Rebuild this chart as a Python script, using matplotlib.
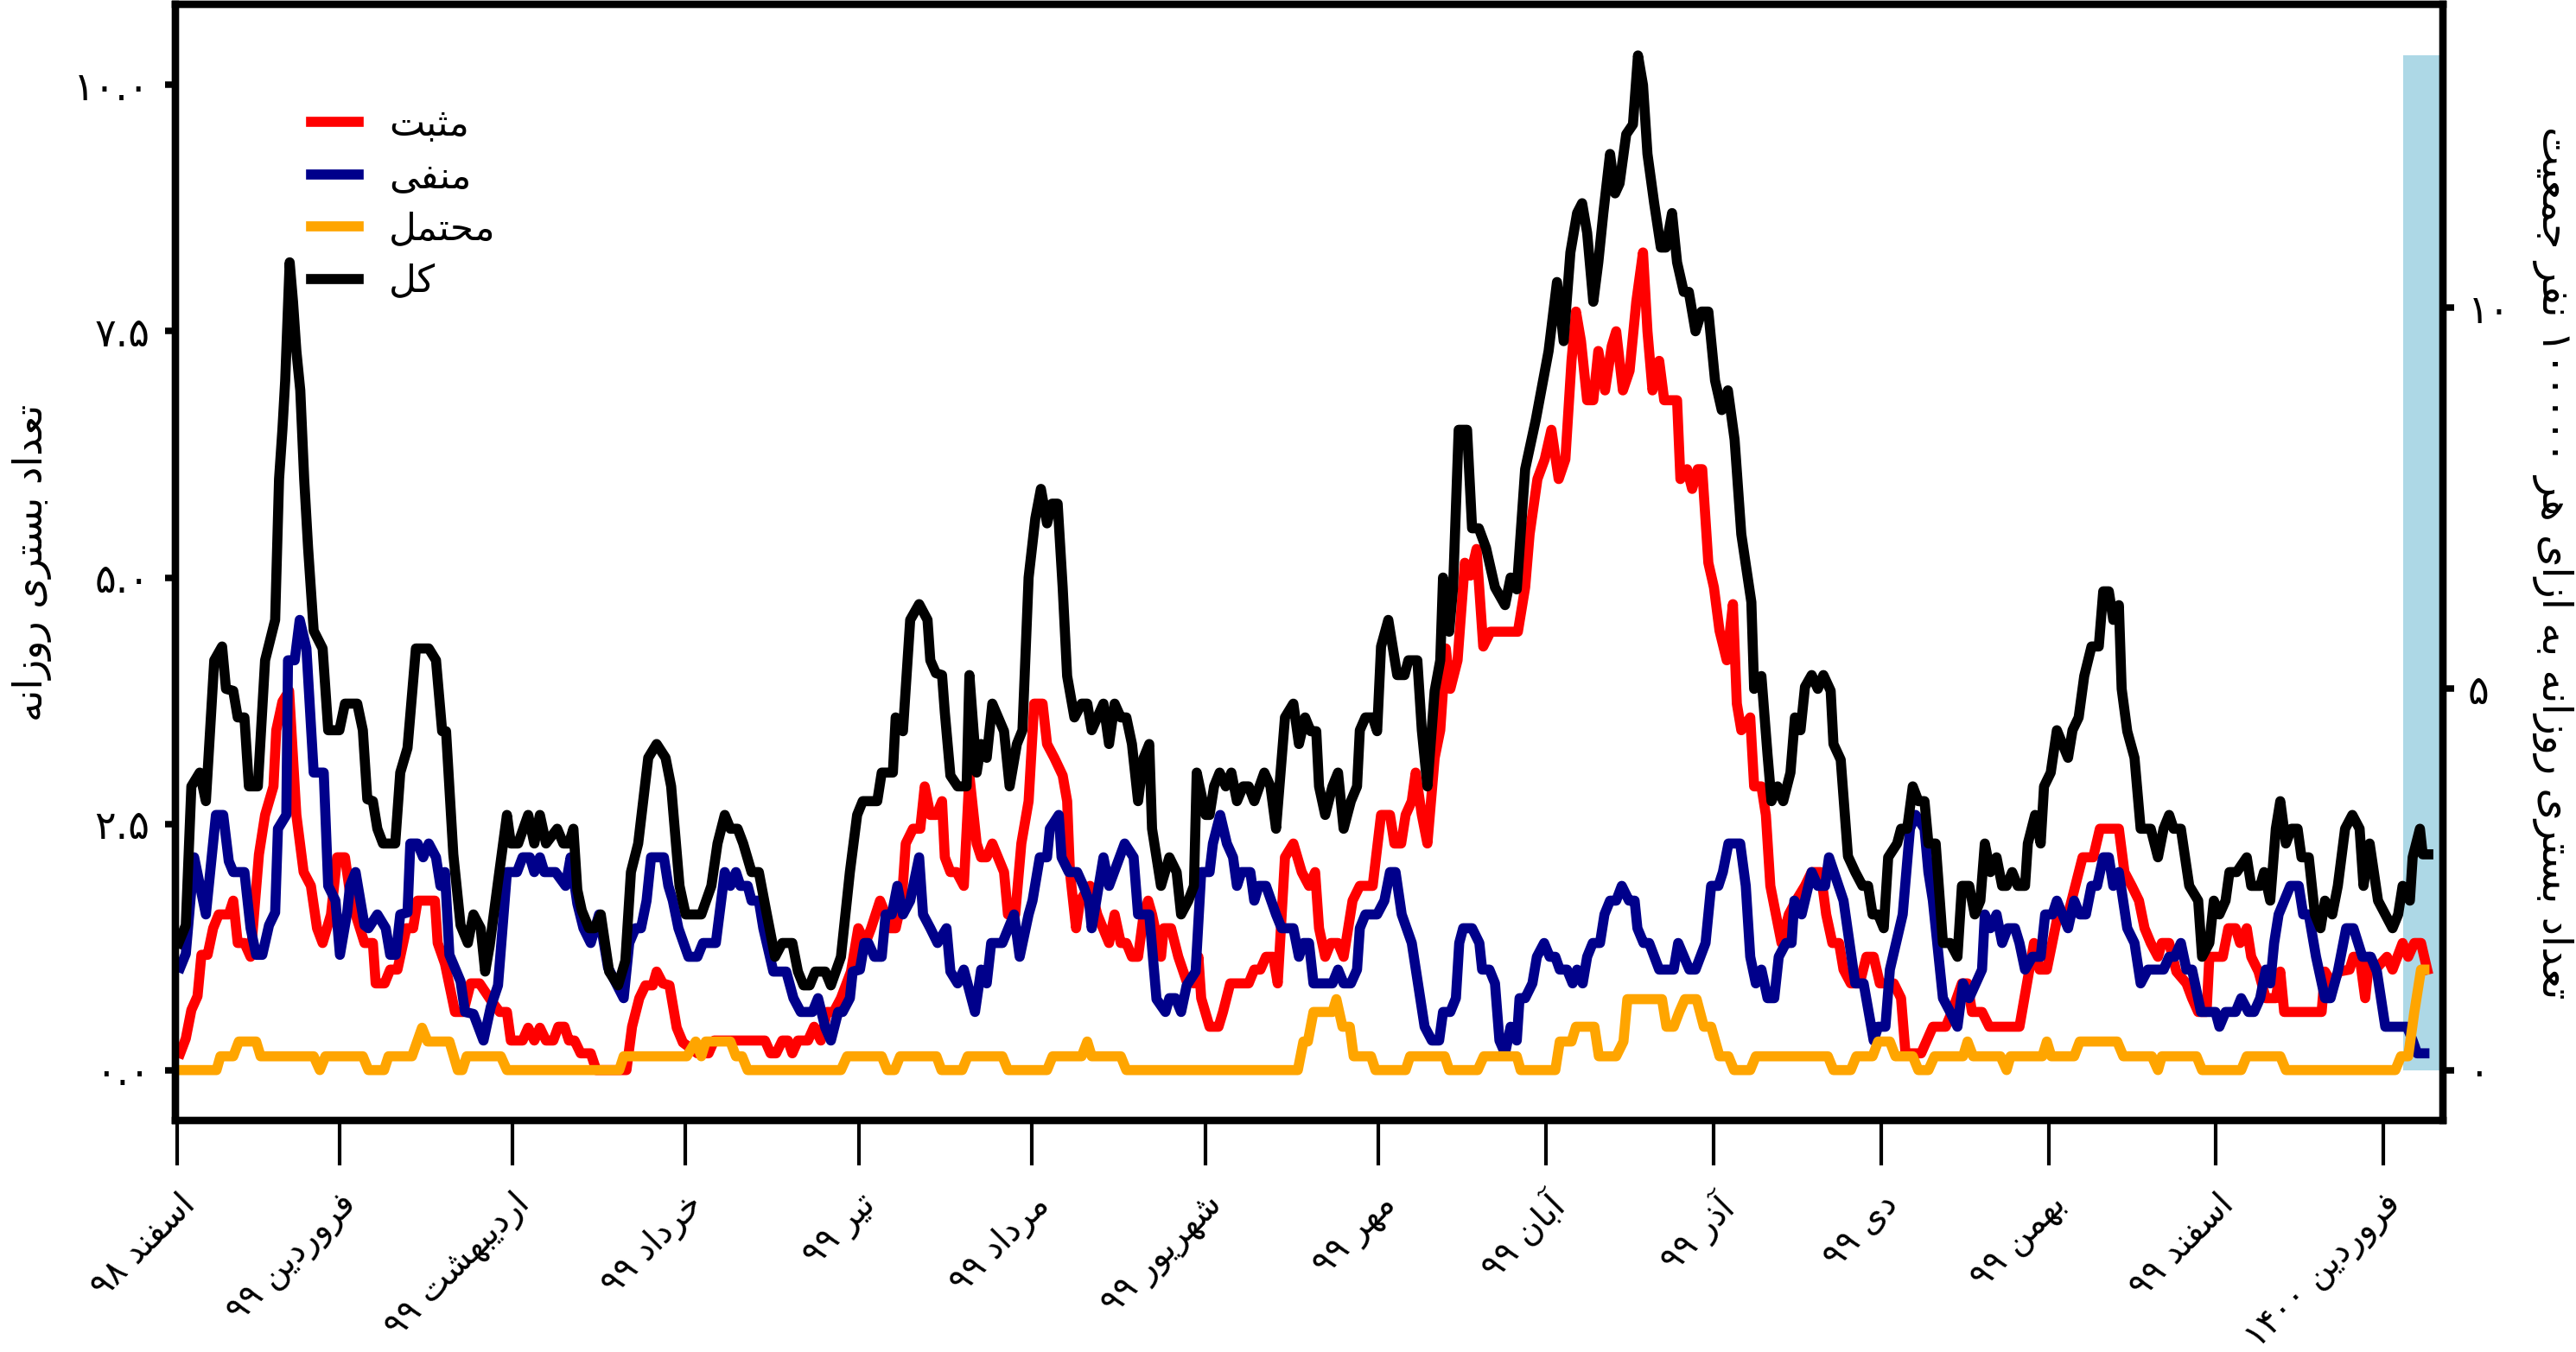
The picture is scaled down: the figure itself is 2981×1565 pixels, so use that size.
import re
import matplotlib
matplotlib.use("Agg")
import matplotlib.pyplot as plt

# days are counted from 1 Esfand 1398
tot_days = [0.2, 1.5, 2.5, 4, 5.1, 6.6, 8, 8.7, 10, 10.8, 12, 12.8, 14.4, 15.7, 17.5, 18.2, 18.8, 19.3, 19.7, 20.1, 20.7, 21.3, 22, 22.7, 23.4, 24.4, 26, 27, 29, 30, 32.2, 33.2, 34, 35, 35.8, 36.8, 39, 39.9, 41.2, 42.7, 45, 46.3, 47.4, 48.1, 49.4, 50.7, 52, 53, 54.3, 55.1, 55.9, 57.4, 59, 59.7, 61, 62.8, 63.9, 64.9, 66, 68, 69.1, 70.1, 70.9, 71.6, 72.4, 73.7, 74.7, 75.8, 77.3, 78.9, 80.2, 81.2, 82.5, 84.3, 85.8, 87.4, 88.4, 89.9, 91, 93.8, 95.6, 96.7, 98, 99, 100.3, 101.3, 102.8, 104.1, 105.4, 107, 108.3, 110.1, 111.1, 112.1, 113.2, 114.2, 116, 117, 118.8, 120.4, 121.7, 122.7, 125.3, 126.1, 128.1, 128.6, 129.9, 131.2, 132.8, 134.3, 134.8, 135.8, 136.9, 137.4, 138.4, 139.7, 141.3, 141.8, 143.1, 143.9, 144.9, 145.9, 148, 149, 150.3, 151.3, 152.4, 153.6, 154.6, 155.7, 156.6, 157.6, 158.5, 159.3, 160.6, 161.9, 162.9, 163.7, 164.7, 165.8, 166.8, 167.8, 168.9, 169.9, 170.9, 172, 173, 174, 174.5, 176.1, 177.6, 178.9, 179.7, 181, 182, 182.5, 184.1, 184.8, 185.6, 186.6, 187.7, 188.7, 189.7, 190.8, 191.8, 192.8, 194.6, 195.7, 196.7, 198.3, 199.8, 200.8, 201.9, 202.9, 203.9, 204.4, 205.5, 206.8, 207.8, 208.8, 210.1, 211.2, 211.7, 212.7, 214, 214.8, 215.5, 216.8, 218.4, 219.7, 220.4, 222, 222.8, 223.8, 225.1, 226.1, 226.6, 227.7, 228.4, 229.4, 230.9, 231.8, 233, 234.3, 235.9, 237.7, 238.7, 239.8, 241.3, 243.2, 245.5, 247, 248.2, 249.4, 250.6, 251.5, 252.4, 253.5, 254.4, 255.3, 256.5, 257.4, 258.2, 259.4, 260.6, 261.5, 262.4, 263.2, 264.4, 265.6, 266.5, 267.6, 268.5, 269.7, 270.6, 271.8, 272.9, 274.1, 275.3, 276.5, 277.6, 278.8, 280, 281.8, 282.3, 283.6, 284.7, 285.4, 286.5, 287.5, 288.8, 289.6, 290.6, 291.4, 292.6, 293.7, 294.7, 296, 296.5, 297.8, 299.1, 300.4, 301.7, 302.7, 303.5, 304.5, 305.5, 306.3, 307.9, 308.6, 309.7, 310.7, 311.7, 312.8, 313.5, 314.8, 316.1, 317.4, 318.7, 319.5, 320.8, 321.8, 322.8, 323.6, 324.6, 325.7, 326.7, 327.5, 328.5, 329.5, 330.8, 331.3, 332.6, 333.6, 334.2, 335.4, 336.5, 338.5, 339.3, 340.4, 341.4, 342.7, 344, 344.8, 345.8, 346.6, 347.6, 348.1, 349.1, 350.4, 351.5, 353.3, 354.6, 355.6, 356.6, 357.4, 358.7, 360.2, 361.8, 362.5, 363.8, 364.6, 365.6, 366.7, 367.4, 368.7, 370.5, 371.3, 372.9, 373.6, 374.7, 375.7, 376.5, 377.5, 378.5, 379.6, 380.3, 381.6, 382.7, 383.7, 384.5, 385.8, 386.8, 388.1, 389.4, 390.7, 391.4, 392.5, 394, 395.3, 396.6, 397.6, 398.4, 399.7, 400.2, 401.5, 402, 403]
tot_vals = [1.29, 1.47, 2.88, 3.02, 2.73, 4.16, 4.30, 3.87, 3.85, 3.58, 3.58, 2.88, 2.88, 4.16, 4.57, 6.0, 6.5, 7.0, 7.6, 8.2, 7.8, 7.3, 6.9, 6.0, 5.3, 4.46, 4.28, 3.45, 3.45, 3.72, 3.72, 3.45, 2.75, 2.73, 2.45, 2.30, 2.30, 3.02, 3.27, 4.28, 4.28, 4.16, 3.44, 3.44, 2.19, 1.47, 1.29, 1.58, 1.44, 1.00, 1.26, 1.91, 2.59, 2.30, 2.30, 2.59, 2.30, 2.59, 2.30, 2.45, 2.30, 2.30, 2.45, 1.83, 1.62, 1.44, 1.44, 1.58, 1.00, 0.86, 1.11, 2.01, 2.30, 3.17, 3.31, 3.17, 2.88, 1.87, 1.58, 1.58, 1.87, 2.30, 2.59, 2.45, 2.45, 2.30, 2.01, 2.01, 1.62, 1.15, 1.29, 1.29, 1.00, 0.86, 0.86, 1.00, 1.00, 0.86, 1.15, 2.01, 2.59, 2.73, 2.73, 3.02, 3.02, 3.58, 3.44, 4.57, 4.73, 4.57, 4.16, 4.03, 4.01, 3.63, 2.99, 2.88, 2.88, 4.01, 3.02, 3.31, 3.17, 3.72, 3.44, 2.88, 3.31, 3.45, 5.0, 5.6, 5.9, 5.55, 5.75, 5.75, 4.9, 4.0, 3.58, 3.72, 3.72, 3.45, 3.58, 3.72, 3.31, 3.72, 3.58, 3.58, 3.31, 2.73, 3.17, 3.31, 2.45, 1.87, 2.16, 2.01, 1.58, 1.72, 1.87, 3.02, 2.59, 2.59, 2.88, 3.02, 2.88, 3.02, 2.73, 2.88, 2.88, 2.73, 3.02, 2.88, 2.45, 3.58, 3.72, 3.31, 3.58, 3.44, 3.44, 2.88, 2.59, 2.88, 3.02, 2.45, 2.73, 2.88, 3.45, 3.58, 3.58, 3.44, 4.30, 4.57, 4.01, 4.01, 4.16, 4.16, 3.45, 2.88, 3.85, 4.16, 5.0, 4.45, 4.9, 6.5, 6.5, 5.5, 5.5, 5.3, 4.9, 4.72, 5.0, 4.88, 6.1, 6.6, 7.3, 8.0, 7.4, 8.3, 8.7, 8.8, 8.5, 7.8, 8.2, 8.7, 9.3, 8.9, 9.0, 9.5, 9.6, 10.3, 10.0, 9.3, 8.8, 8.35, 8.35, 8.7, 8.2, 7.9, 7.9, 7.5, 7.7, 7.7, 7.0, 6.7, 6.9, 6.4, 5.44, 4.75, 3.87, 4.0, 3.2, 2.73, 2.88, 2.73, 3.02, 3.58, 3.45, 3.89, 4.01, 3.87, 4.01, 3.85, 3.31, 3.15, 2.17, 2.01, 1.87, 1.87, 1.58, 1.58, 1.44, 2.16, 2.30, 2.45, 2.45, 2.88, 2.73, 2.73, 2.30, 2.30, 1.29, 1.29, 1.15, 1.87, 1.87, 1.58, 1.72, 2.30, 2.01, 2.16, 1.87, 1.87, 2.01, 1.87, 1.87, 2.30, 2.59, 2.30, 2.88, 3.02, 3.45, 3.17, 3.45, 3.58, 4.0, 4.30, 4.30, 4.86, 4.86, 4.57, 4.72, 3.87, 3.44, 3.17, 2.45, 2.45, 2.16, 2.45, 2.59, 2.45, 2.45, 1.87, 1.72, 1.15, 1.29, 1.72, 1.58, 1.72, 2.01, 2.01, 2.16, 1.87, 1.87, 2.01, 1.72, 2.45, 2.73, 2.30, 2.45, 2.45, 2.16, 2.16, 1.58, 1.44, 1.72, 1.58, 1.87, 2.45, 2.59, 2.45, 1.87, 2.30, 1.72, 1.58, 1.44, 1.58, 1.87, 1.72, 2.16, 2.45, 2.19, 2.19]

pos_days = [0.5, 1.5, 2.5, 3.6, 4.3, 5.4, 6.4, 7.4, 9.2, 10, 10.8, 12, 13.1, 14.6, 15.7, 17.2, 17.7, 18.8, 20, 21.3, 22.6, 23.9, 25, 26, 27.5, 28.6, 30, 31.1, 31.9, 33.5, 35, 35.5, 37.1, 38.1, 39.4, 41, 42.2, 43, 46.1, 46.6, 47.9, 49.7, 51.2, 52.5, 54.1, 56, 57.7, 59, 59.7, 61.8, 62.8, 63.9, 64.9, 66, 67.3, 68.2, 69.3, 70.1, 71.1, 72.2, 74, 75, 80.4, 81.4, 82.7, 83.8, 85.1, 85.8, 86.9, 88.1, 89.4, 90.5, 93.1, 95.1, 96.1, 105.2, 106.2, 107.2, 108.3, 109.3, 110.1, 111.1, 112.9, 114, 115.2, 116.3, 117.5, 118.8, 120.6, 121.9, 123.2, 124.2, 125.8, 126.8, 127.6, 128.6, 129.7, 130.4, 131.7, 133, 133.8, 134.8, 135.9, 136.9, 137.4, 138.4, 139.5, 140.8, 141.8, 143.1, 143.9, 144.9, 145.9, 148, 148.7, 150, 151.1, 152.4, 153.4, 154.9, 155.7, 157, 158.5, 159.3, 159.8, 160.9, 161.6, 163.4, 164.7, 166.8, 167.8, 168.9, 169.9, 170.9, 172, 173, 173.8, 174.5, 176.1, 176.6, 177.9, 179.2, 180.7, 182, 182.8, 183.3, 184.8, 186.4, 187.2, 188.5, 191.8, 192.8, 193.9, 194.9, 196.2, 197, 198.3, 199.8, 201.3, 202.6, 203.7, 204.4, 205.5, 206.5, 207.8, 208.8, 210.4, 211.7, 214, 215.5, 217.1, 217.9, 219.1, 219.9, 221, 221.7, 222.8, 223.8, 225.1, 226.1, 227.1, 227.9, 229.2, 230.5, 231.5, 232.6, 233.8, 235.1, 240, 241.3, 242.1, 243.5, 244.8, 246, 247.3, 248.5, 249.6, 250.4, 251.3, 252.4, 253.5, 254.4, 255.6, 256.8, 257.6, 258.8, 260, 261.2, 262.4, 263.2, 264.1, 265.3, 266.2, 268.5, 269.1, 270.3, 271.2, 272.2, 273, 274.1, 275.1, 276.1, 277.4, 278.5, 279.2, 280, 281.6, 282.3, 283.6, 284.4, 285.2, 286.2, 287.2, 288.5, 289.8, 291.4, 292.6, 294.2, 295.2, 296.3, 297.5, 298.3, 299.6, 301.2, 302.4, 303.7, 304.8, 307.3, 308.6, 309.4, 312.2, 314.3, 316.6, 317.7, 319.5, 320.5, 321.3, 323.1, 324.4, 329.8, 332.4, 333.4, 334.7, 336.7, 338.5, 339.8, 341.1, 343, 344.2, 347.6, 348.6, 349.9, 351.2, 352.2, 353.3, 354.6, 355.3, 356.6, 357.9, 359.7, 360.7, 361.8, 363.3, 363.8, 366.2, 367.2, 368.5, 369.3, 370.5, 371.3, 372.6, 373.9, 375.7, 376.5, 377.2, 383.9, 384.5, 385.8, 387, 388.9, 389.6, 390.7, 391.7, 392.5, 393.5, 395.6, 396.6, 398.4, 399.4, 400.5, 401.7, 402.8]
pos_vals = [0.17, 0.32, 0.61, 0.75, 1.17, 1.17, 1.44, 1.58, 1.58, 1.72, 1.29, 1.29, 1.15, 2.19, 2.59, 2.88, 3.45, 3.74, 3.85, 2.59, 2.01, 1.87, 1.44, 1.29, 1.58, 2.16, 2.16, 1.72, 1.58, 1.29, 1.29, 0.88, 0.88, 1.02, 1.02, 1.44, 1.44, 1.72, 1.72, 1.29, 1.08, 0.59, 0.59, 0.88, 0.88, 0.72, 0.59, 0.59, 0.30, 0.30, 0.43, 0.30, 0.43, 0.30, 0.30, 0.44, 0.44, 0.30, 0.30, 0.17, 0.17, 0, 0, 0.44, 0.73, 0.86, 0.86, 1.00, 0.88, 0.86, 0.43, 0.28, 0.17, 0.17, 0.30, 0.30, 0.17, 0.17, 0.30, 0.30, 0.17, 0.30, 0.30, 0.44, 0.30, 0.59, 0.59, 0.73, 1.00, 1.44, 1.29, 1.44, 1.72, 1.58, 1.44, 1.44, 1.72, 2.30, 2.45, 2.45, 2.88, 2.59, 2.59, 2.73, 2.16, 2.01, 2.01, 1.87, 2.99, 2.30, 2.16, 2.16, 2.30, 2.01, 1.58, 1.58, 2.30, 2.73, 3.72, 3.72, 3.31, 3.17, 2.99, 2.73, 2.01, 1.44, 1.72, 1.87, 1.58, 1.29, 1.58, 1.29, 1.29, 1.15, 1.15, 1.58, 1.72, 1.58, 1.15, 1.44, 1.44, 1.15, 0.90, 0.88, 1.15, 0.73, 0.44, 0.44, 0.59, 0.88, 0.88, 1.02, 1.02, 1.15, 1.15, 0.88, 2.16, 2.30, 2.01, 1.87, 2.01, 1.44, 1.15, 1.29, 1.29, 1.15, 1.72, 1.87, 1.87, 2.59, 2.59, 2.30, 2.30, 2.59, 2.73, 3.02, 2.59, 2.30, 3.17, 3.45, 4.28, 3.87, 4.16, 5.15, 5.02, 5.29, 4.30, 4.45, 4.45, 4.90, 5.44, 6.0, 6.2, 6.5, 6.0, 6.2, 7.2, 7.7, 7.4, 6.8, 6.8, 7.3, 6.9, 7.35, 7.5, 6.9, 7.1, 7.8, 8.3, 7.5, 6.9, 7.2, 6.8, 6.8, 6.0, 6.1, 5.9, 6.1, 6.1, 5.15, 4.90, 4.46, 4.16, 4.73, 3.72, 3.45, 3.58, 2.88, 2.88, 2.59, 1.87, 1.58, 1.29, 1.58, 1.72, 1.87, 2.01, 2.01, 1.58, 1.29, 1.29, 1.02, 0.88, 0.88, 1.15, 1.15, 0.88, 0.88, 0.73, 0.17, 0.17, 0.44, 0.44, 0.59, 0.88, 0.88, 0.59, 0.59, 0.44, 0.44, 1.29, 1.02, 1.02, 1.58, 1.58, 1.87, 2.16, 2.16, 2.45, 2.45, 2.01, 1.87, 1.72, 1.44, 1.29, 1.15, 1.29, 1.29, 1.00, 0.88, 0.73, 0.59, 0.59, 1.15, 1.15, 1.44, 1.44, 1.29, 1.44, 1.15, 1.00, 0.73, 0.73, 1.00, 0.59, 0.59, 1.00, 0.88, 1.00, 1.02, 1.15, 1.15, 0.73, 1.15, 1.02, 1.15, 1.02, 1.29, 1.15, 1.29, 1.29, 1.02]

neg_days = [0.5, 1.5, 3, 5.1, 6.9, 8.2, 9.2, 10, 12, 13.1, 14.1, 15.2, 16.4, 17.5, 18, 19.5, 19.8, 21, 21.9, 23.1, 24.4, 26.2, 27, 28.3, 29.1, 30.4, 30.9, 31.9, 33.5, 34.2, 35.8, 37.3, 38.1, 39.1, 39.9, 41.2, 41.7, 43, 44, 45, 46.3, 47.1, 47.9, 48.7, 50.7, 51.5, 53, 54.8, 56.1, 57.4, 59, 60.8, 61.8, 63.1, 63.9, 64.9, 65.7, 67.7, 69.5, 70.4, 71.6, 72.7, 74, 75.5, 77.1, 79.9, 80.9, 82, 83, 84, 84.8, 87.1, 87.9, 88.7, 89.7, 91.5, 93.1, 94.1, 96.4, 98, 99, 100, 100.8, 102.1, 102.8, 104.1, 104.9, 106.7, 109, 110.3, 111.6, 113.7, 114.7, 116, 117, 118.3, 119.1, 120.4, 120.9, 122.2, 123, 123.7, 124.8, 126.1, 126.8, 127.9, 128.9, 129.9, 131.2, 132.8, 133.5, 134.8, 136.1, 137.7, 138.4, 139.7, 140.8, 142.8, 143.9, 144.9, 145.7, 147.7, 149.8, 150.8, 152.4, 153.1, 154.4, 155.7, 156.2, 157.8, 158.3, 159.6, 161.1, 162.2, 163.2, 163.7, 165.8, 166.8, 169.6, 171.2, 172, 174, 175.3, 176.9, 177.6, 178.7, 179.7, 180.7, 182.3, 183.3, 184.8, 185.4, 186.7, 187.9, 189, 189.7, 190.5, 192.1, 192.8, 193.6, 194.9, 196.7, 197.7, 199.8, 200.8, 201.6, 202.6, 203.4, 206.8, 207.8, 208.8, 210.1, 211.2, 211.7, 212.7, 214.8, 216.1, 217.1, 218.1, 219.2, 221, 223.3, 224.6, 225.9, 226.6, 227.9, 228.9, 229.5, 230.2, 231.8, 233.1, 233.6, 234.9, 235.9, 236.7, 237.7, 238.7, 239.8, 240.3, 241.3, 242.6, 243.4, 244.7, 245.7, 246.7, 247.5, 248.8, 249.8, 250.6, 251.6, 252.4, 253.4, 254.7, 255.5, 256.5, 257.6, 258.6, 259.9, 260.9, 261.4, 262.5, 263.5, 265.3, 267.9, 268.7, 270.7, 271.8, 273.6, 274.6, 275.9, 276.7, 277.7, 279.8, 280.8, 281.6, 282.6, 283.6, 284.7, 285.9, 286.7, 288, 289, 289.5, 290.8, 292.6, 293.7, 295, 295.7, 298.3, 300.4, 301.9, 303.7, 304.5, 305.8, 306.6, 308.9, 310.2, 311.2, 312.8, 313.5, 314.3, 316.1, 317.4, 318.7, 319.7, 320.8, 323.1, 323.6, 324.6, 325.7, 326.7, 327.7, 329, 329.8, 330.8, 332.1, 333.6, 334.4, 335.7, 336.5, 338.5, 339.6, 340.6, 341.7, 342.7, 343.7, 344.8, 345.8, 346.6, 347.6, 349.1, 350.4, 351.5, 352.8, 355.6, 356.6, 357.6, 358.7, 359.7, 360.7, 362.3, 364.9, 365.6, 366.7, 368.5, 369.5, 370.8, 371.8, 372.9, 373.9, 374.7, 375.4, 376.2, 378.3, 379.8, 380.6, 381.6, 382.9, 384.5, 385.5, 386.8, 388.3, 389.6, 391.2, 392.7, 393.8, 395.3, 399.2, 400.2, 401, 402.3]
neg_vals = [1.04, 1.18, 2.16, 1.58, 2.59, 2.59, 2.12, 2.01, 2.01, 1.44, 1.17, 1.17, 1.47, 1.60, 2.45, 2.59, 4.16, 4.16, 4.57, 4.28, 3.02, 3.02, 1.87, 1.72, 1.17, 1.60, 1.87, 2.01, 1.47, 1.44, 1.58, 1.44, 1.17, 1.17, 1.58, 1.60, 2.30, 2.30, 2.16, 2.30, 2.16, 1.87, 2.01, 1.17, 0.90, 0.59, 0.57, 0.30, 0.64, 0.86, 2.01, 2.01, 2.16, 2.16, 2.01, 2.16, 2.01, 2.01, 1.87, 2.16, 1.69, 1.44, 1.29, 1.58, 1.04, 0.73, 1.29, 1.44, 1.44, 1.72, 2.16, 2.16, 1.87, 1.72, 1.44, 1.15, 1.15, 1.29, 1.29, 2.01, 1.87, 2.01, 1.87, 1.87, 1.72, 1.72, 1.44, 1.00, 1.00, 0.73, 0.59, 0.59, 0.73, 0.43, 0.30, 0.59, 0.59, 0.73, 1.00, 1.02, 1.29, 1.29, 1.15, 1.15, 1.58, 1.58, 1.87, 1.58, 1.72, 2.16, 1.58, 1.44, 1.29, 1.44, 1.00, 0.88, 1.02, 0.59, 1.02, 0.88, 1.29, 1.29, 1.58, 1.15, 1.58, 1.72, 2.16, 2.16, 2.45, 2.59, 2.16, 2.01, 2.01, 1.87, 1.72, 1.44, 2.16, 1.87, 2.30, 2.16, 1.58, 1.58, 0.72, 0.59, 0.73, 0.73, 0.59, 0.86, 1.00, 2.01, 2.01, 2.30, 2.59, 2.30, 2.16, 1.87, 2.01, 2.01, 1.72, 1.87, 1.87, 1.58, 1.44, 1.44, 1.15, 1.29, 1.29, 0.88, 0.88, 1.02, 0.88, 0.88, 1.02, 1.44, 1.58, 1.58, 1.72, 2.01, 2.01, 1.58, 1.29, 0.44, 0.30, 0.30, 0.59, 0.59, 0.73, 1.29, 1.44, 1.44, 1.29, 1.02, 1.02, 0.88, 0.30, 0.17, 0.44, 0.30, 0.73, 0.73, 0.88, 1.15, 1.29, 1.15, 1.15, 1.02, 1.02, 0.88, 1.02, 0.88, 1.15, 1.29, 1.29, 1.58, 1.72, 1.72, 1.87, 1.72, 1.72, 1.44, 1.29, 1.29, 1.02, 1.02, 1.29, 1.02, 1.02, 1.29, 1.87, 1.87, 2.01, 2.30, 2.30, 1.87, 1.15, 0.88, 1.02, 0.73, 0.73, 1.15, 1.29, 1.29, 1.72, 1.58, 2.01, 1.87, 1.87, 2.16, 1.72, 0.88, 0.88, 0.30, 0.44, 0.44, 1.02, 1.58, 2.45, 2.59, 2.45, 2.01, 1.72, 0.73, 0.59, 0.44, 0.88, 0.73, 1.02, 1.58, 1.44, 1.58, 1.29, 1.44, 1.44, 1.29, 1.02, 1.15, 1.15, 1.58, 1.58, 1.72, 1.44, 1.72, 1.58, 1.58, 1.87, 1.87, 2.16, 2.16, 1.87, 2.01, 1.44, 1.29, 0.88, 1.02, 1.02, 1.15, 1.15, 1.29, 1.02, 1.02, 0.59, 0.59, 0.44, 0.59, 0.59, 0.73, 0.59, 0.59, 0.73, 1.02, 0.88, 1.29, 1.58, 1.87, 1.87, 1.58, 1.58, 1.15, 0.73, 0.73, 1.00, 1.44, 1.44, 1.15, 1.15, 1.00, 0.44, 0.44, 0.30, 0.17, 0.17]

prob_days = [0, 7, 7.7, 10, 11, 14.1, 14.9, 24.4, 25.5, 26.5, 33.2, 34.2, 37, 37.8, 42, 43.8, 44.8, 48.7, 50.2, 51, 51.8, 57.9, 59, 79.1, 79.9, 91.2, 92.8, 93.8, 94.6, 99, 100, 101.1, 102.1, 118.8, 119.9, 126.1, 127.1, 128.4, 129.4, 135.9, 136.8, 140.5, 141.5, 147.7, 148.7, 155.7, 156.7, 161.9, 162.9, 163.7, 168.9, 169.9, 200.6, 201.6, 202.4, 203.4, 206.8, 207.5, 208.6, 209.9, 210.6, 213.7, 214.5, 219.9, 220.7, 226.9, 227.7, 232.8, 233.9, 239.8, 240.5, 246.7, 247.5, 249.6, 250.4, 253.7, 254.5, 257.6, 258.9, 259.6, 265.8, 266.6, 267.9, 268.9, 269.9, 272, 273.3, 274.6, 276.1, 277.7, 278.7, 281.6, 282.6, 295.5, 296.5, 299.6, 300.6, 303.5, 304.5, 306.6, 307.6, 310.7, 311.7, 313.5, 314.6, 319.7, 320.5, 321.5, 326.4, 327.5, 328.2, 333.9, 334.7, 335.5, 339.6, 340.6, 347.3, 348.4, 353.5, 354.6, 355.3, 361.5, 362.5, 369.5, 370.5, 376.5, 377.5, 397.1, 398.1, 399.4, 400.5, 401.7, 402.3]
prob_vals = [0, 0, 0.14, 0.14, 0.29, 0.29, 0.14, 0.14, 0, 0.14, 0.14, 0, 0, 0.14, 0.14, 0.43, 0.29, 0.29, 0, 0, 0.14, 0.14, 0, 0, 0.14, 0.14, 0.29, 0.14, 0.29, 0.29, 0.14, 0.14, 0, 0, 0.14, 0.14, 0, 0, 0.14, 0.14, 0, 0, 0.14, 0.14, 0, 0, 0.14, 0.14, 0.29, 0.14, 0.14, 0, 0, 0.29, 0.29, 0.59, 0.59, 0.72, 0.44, 0.44, 0.14, 0.14, 0, 0, 0.14, 0.14, 0, 0, 0.14, 0.14, 0, 0, 0.29, 0.29, 0.44, 0.44, 0.14, 0.14, 0.29, 0.72, 0.72, 0.44, 0.44, 0.59, 0.72, 0.72, 0.44, 0.44, 0.14, 0.14, 0, 0, 0.14, 0.14, 0, 0, 0.14, 0.14, 0.29, 0.29, 0.14, 0.14, 0, 0, 0.14, 0.14, 0.29, 0.14, 0.14, 0, 0.14, 0.14, 0.29, 0.14, 0.14, 0.29, 0.29, 0.14, 0.14, 0, 0.14, 0.14, 0, 0, 0.14, 0.14, 0, 0, 0.14, 0.14, 0.59, 1.02, 1.02]

month_days = [0, 29, 60, 91, 122, 153, 184, 215, 245, 275, 305, 335, 365, 395]
month_names = ["اسفند ۹۸", "فروردین ۹۹", "اردیبهشت ۹۹", "خرداد ۹۹", "تیر ۹۹", "مرداد ۹۹",
               "شهریور ۹۹", "مهر ۹۹", "آبان ۹۹", "آذر ۹۹", "دی ۹۹", "بهمن ۹۹", "اسفند ۹۹",
               "فروردین ۱۴۰۰"]
series_names = ["مثبت", "منفی", "محتمل", "کل"]
left_ticks = [0, 2.5, 5, 7.5, 10]
right_ticks = [0, 5, 10]
population = 77400
span_start = 398.5
span_end = 405.2

# matplotlib has no arabic shaping, so pick the joined glyph forms by hand
FORMS = {
    "ا": (0xFE8D, 0xFE8E), "آ": (0xFE81, 0xFE82), "د": (0xFEA9, 0xFEAA),
    "ذ": (0xFEAB, 0xFEAC), "ر": (0xFEAD, 0xFEAE), "ز": (0xFEAF, 0xFEB0),
    "و": (0xFEED, 0xFEEE),
    "ب": (0xFE8F, 0xFE90, 0xFE91, 0xFE92), "ت": (0xFE95, 0xFE96, 0xFE97, 0xFE98),
    "ث": (0xFE99, 0xFE9A, 0xFE9B, 0xFE9C), "ج": (0xFE9D, 0xFE9E, 0xFE9F, 0xFEA0),
    "ح": (0xFEA1, 0xFEA2, 0xFEA3, 0xFEA4), "خ": (0xFEA5, 0xFEA6, 0xFEA7, 0xFEA8),
    "س": (0xFEB1, 0xFEB2, 0xFEB3, 0xFEB4), "ش": (0xFEB5, 0xFEB6, 0xFEB7, 0xFEB8),
    "ع": (0xFEC9, 0xFECA, 0xFECB, 0xFECC), "ف": (0xFED1, 0xFED2, 0xFED3, 0xFED4),
    "ل": (0xFEDD, 0xFEDE, 0xFEDF, 0xFEE0), "م": (0xFEE1, 0xFEE2, 0xFEE3, 0xFEE4),
    "ن": (0xFEE5, 0xFEE6, 0xFEE7, 0xFEE8), "ه": (0xFEE9, 0xFEEA, 0xFEEB, 0xFEEC),
    "ی": (0xFBFC, 0xFBFD, 0xFBFE, 0xFBFF), "ک": (0xFB8E, 0xFB8F, 0xFB90, 0xFB91),
}


def fa(text):
    out = []
    for i, c in enumerate(text):
        f = FORMS.get(c)
        if f is None:
            out.append(c)
            continue
        prev = text[i - 1] if i > 0 else ""
        nxt = text[i + 1] if i + 1 < len(text) else ""
        a = len(FORMS.get(prev, ())) == 4
        b = len(f) == 4 and nxt in FORMS
        k = 3 if (a and b) else 1 if a else 2 if b else 0
        out.append(chr(f[k]))
    s = "".join(out)[::-1]
    # numbers keep left-to-right order
    return re.sub(r"[0-9۰-۹.]+", lambda m: m.group(0)[::-1], s)


def fa_num(s):
    return s.translate(str.maketrans("0123456789", "۰۱۲۳۴۵۶۷۸۹"))


plt.rcParams["font.family"] = ["DejaVu Sans"]

fig = plt.figure(figsize=(2981 / 300, 1565 / 300), dpi=300)
ax = fig.add_axes([0.068, 0.171, 0.8803, 0.8255])

ax.fill_between([span_start, span_end], 0, max(tot_vals), color="lightblue", lw=0, zorder=0)
lw = 2.8
ax.plot(pos_days, pos_vals, color="red", lw=lw, label=fa(series_names[0]))
ax.plot(neg_days, neg_vals, color="darkblue", lw=lw, label=fa(series_names[1]))
ax.plot(prob_days, prob_vals, color="orange", lw=lw, label=fa(series_names[2]))
ax.plot(tot_days, tot_vals, color="black", lw=lw, label=fa(series_names[3]))

ax.set_xlim(-0.4, 405.6)
lo, hi = ax.get_ylim()

ax.set_yticks(left_ticks)
ax.set_yticklabels([fa_num(f"{v:.1f}") for v in left_ticks], fontsize=11)
ax.set_xticks(month_days)
ax.set_xticklabels([fa(m) for m in month_names], rotation=45, ha="right",
                   rotation_mode="anchor", fontsize=9.5)
ax.tick_params(axis="x", length=12.5, width=1.0, pad=6)
ax.tick_params(axis="y", length=3, width=1.8, pad=4)
ax.set_ylabel(fa("تعداد بستری روزانه"), fontsize=11, labelpad=6)

ax2 = ax.twinx()
k = 100000 / population
ax2.set_ylim(lo * k, hi * k)
ax2.set_yticks(right_ticks)
ax2.set_yticklabels([fa_num(str(v)) for v in right_ticks], fontsize=11)
ax2.tick_params(axis="y", length=3, width=1.8, pad=4)
ax2.set_ylabel(fa("تعداد بستری روزانه به ازای هر ۱۰۰۰۰۰ نفر جمعیت"), fontsize=11.5,
               rotation=270, va="bottom", labelpad=6)

for a in (ax, ax2):
    for sp in a.spines.values():
        sp.set_linewidth(2.0)

ax.legend(loc="upper left", bbox_to_anchor=(0.045, 0.94), frameon=False, fontsize=10.5,
          handlelength=1.25, handletextpad=0.8, labelspacing=0.4)

fig.savefig("out.png", dpi=300)
